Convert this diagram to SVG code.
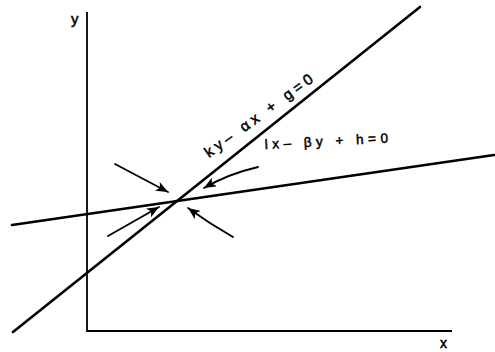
<svg xmlns="http://www.w3.org/2000/svg" width="495" height="352" viewBox="0 0 495 352">
<style>
.ax{stroke:#000;stroke-width:1.8;fill:none}
.ln{stroke:#000;stroke-width:2.6;fill:none;stroke-linecap:round}
.ar{stroke:#000;stroke-width:1.8;fill:none;stroke-linecap:round;marker-end:url(#ah)}
.t{font-family:"Liberation Sans",Arial,sans-serif;fill:#000;stroke:#000;stroke-width:0.5}
</style>
<defs>
<marker id="ah" markerWidth="14" markerHeight="10" refX="12" refY="5" orient="auto" markerUnits="userSpaceOnUse">
<path d="M0,0 L12,5 L0,10 L3,5 Z" fill="#000"/>
</marker>
</defs>
<rect width="495" height="352" fill="#fff"/>
<g id="axes">
<path class="ax" d="M87,12 V331 H452"/>
<text class="t" x="71" y="24" font-size="15">y</text>
<text class="t" x="440" y="348" font-size="14">x</text>
</g>
<g id="line1">
<line class="ln" x1="13" y1="332" x2="420" y2="7"/>
<text class="t" font-size="15" letter-spacing="4" transform="translate(209,158) rotate(-36)">ky– αx + g=0</text>
</g>
<g id="line2">
<line class="ln" x1="12" y1="225" x2="494" y2="155"/>
<text class="t" font-size="13.5" letter-spacing="4.5" transform="translate(265,149) rotate(-3)">lx– βy + h=0</text>
</g>
<g id="connectors">
<line class="ar" x1="115" y1="164" x2="168" y2="192"/>
<line class="ar" x1="108" y1="236" x2="159" y2="207"/>
<path class="ar" d="M258,167 Q228,174 204,188"/>
<path class="ar" d="M233,237 Q210,224 188,208"/>
</g>
</svg>
